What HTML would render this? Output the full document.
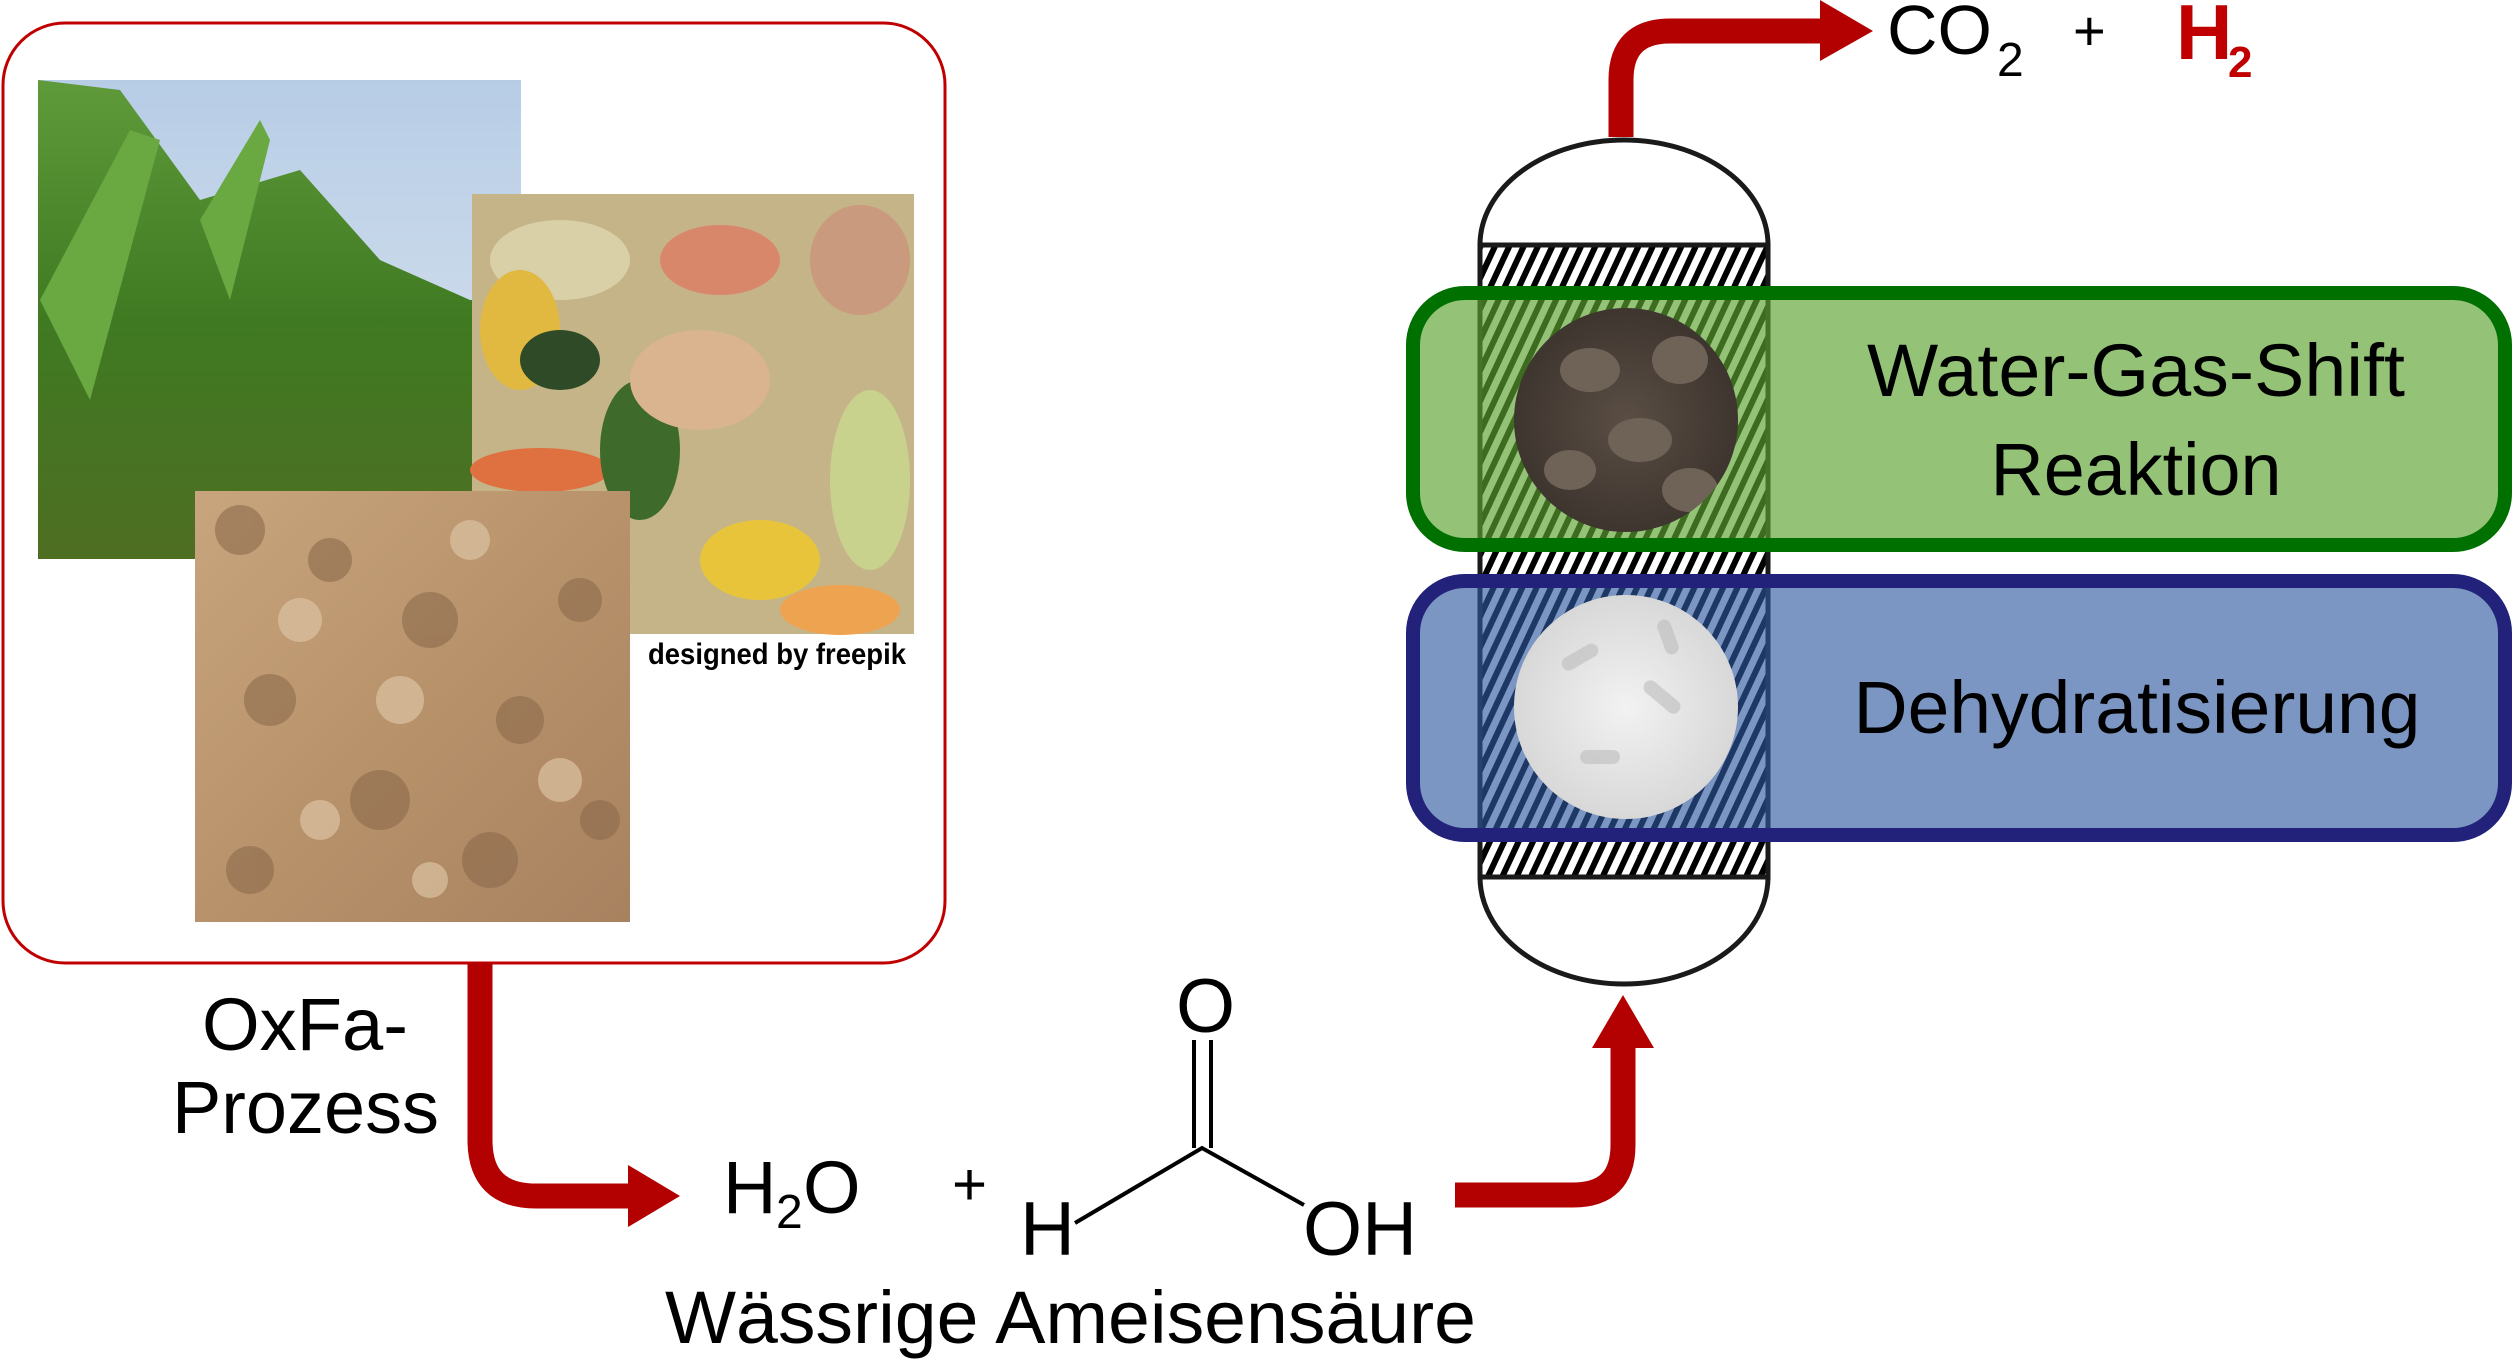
<!DOCTYPE html>
<html><head><meta charset="utf-8"><style>
html,body{margin:0;padding:0;background:#fff;}
svg{display:block;}
text{font-family:"Liberation Sans",Arial,sans-serif;}
</style></head><body>
<svg width="2514" height="1360" viewBox="0 0 2514 1360" xmlns="http://www.w3.org/2000/svg">
<defs>
<pattern id="hatch" width="13" height="13" patternUnits="userSpaceOnUse" patternTransform="rotate(25)">
<rect width="13" height="13" fill="#fff"/><rect width="6" height="13" fill="#000"/>
</pattern>
<linearGradient id="sky" x1="0" y1="0" x2="0" y2="1">
<stop offset="0" stop-color="#b7cde6"/><stop offset="1" stop-color="#dfe7ef"/></linearGradient>
<linearGradient id="corn" x1="0" y1="0" x2="0" y2="1">
<stop offset="0" stop-color="#5f9a3a"/><stop offset="0.5" stop-color="#3f7a22"/><stop offset="1" stop-color="#4e6e22"/></linearGradient>
<linearGradient id="wood" x1="0" y1="0" x2="1" y2="1">
<stop offset="0" stop-color="#c8a57d"/><stop offset="0.5" stop-color="#b8926a"/><stop offset="1" stop-color="#a88260"/></linearGradient>
<radialGradient id="dark" cx="0.5" cy="0.5" r="0.5">
<stop offset="0" stop-color="#5a4e44"/><stop offset="1" stop-color="#3e352f"/></radialGradient>
<radialGradient id="white" cx="0.5" cy="0.5" r="0.5">
<stop offset="0" stop-color="#f2f2f2"/><stop offset="1" stop-color="#d8d8d8"/></radialGradient>
<clipPath id="c1"><circle cx="1626" cy="420" r="112"/></clipPath>
<clipPath id="c2"><circle cx="1626" cy="707" r="112"/></clipPath>
</defs>

<!-- Biomass box -->
<rect x="3" y="23" width="942" height="940" rx="62" fill="#fff" stroke="#c00000" stroke-width="3"/>
<!-- corn -->
<rect x="38" y="80" width="483" height="479" fill="url(#sky)"/>
<path d="M38,80 L120,90 L200,200 L300,170 L380,260 L470,300 L521,300 L521,559 L38,559 Z" fill="url(#corn)"/>
<path d="M40,300 L130,130 L160,140 L90,400 Z M200,220 L260,120 L270,140 L230,300 Z" fill="#6aa842"/>
<!-- food -->
<rect x="472" y="194" width="442" height="440" fill="#c6b489"/>
<ellipse cx="560" cy="260" rx="70" ry="40" fill="#d9d0a8"/>
<ellipse cx="720" cy="260" rx="60" ry="35" fill="#d8876a"/>
<ellipse cx="860" cy="260" rx="50" ry="55" fill="#c99a7d"/>
<ellipse cx="520" cy="330" rx="40" ry="60" fill="#e1b840"/>
<ellipse cx="560" cy="360" rx="40" ry="30" fill="#2f4a26"/>
<ellipse cx="540" cy="470" rx="70" ry="22" fill="#df7040"/>
<ellipse cx="640" cy="450" rx="40" ry="70" fill="#3e6a2c"/>
<ellipse cx="760" cy="560" rx="60" ry="40" fill="#e7c43a"/>
<ellipse cx="870" cy="480" rx="40" ry="90" fill="#c8d28c"/>
<ellipse cx="700" cy="380" rx="70" ry="50" fill="#d9b48e"/>
<ellipse cx="840" cy="610" rx="60" ry="25" fill="#eea351"/>
<!-- wood -->
<rect x="195" y="491" width="435" height="431" fill="url(#wood)"/>
<g fill="#8c6a4c" opacity="0.6">
<circle cx="240" cy="530" r="25"/><circle cx="330" cy="560" r="22"/><circle cx="430" cy="620" r="28"/>
<circle cx="270" cy="700" r="26"/><circle cx="520" cy="720" r="24"/><circle cx="380" cy="800" r="30"/>
<circle cx="580" cy="600" r="22"/><circle cx="250" cy="870" r="24"/><circle cx="490" cy="860" r="28"/>
<circle cx="600" cy="820" r="20"/></g>
<g fill="#dcc3a2" opacity="0.7">
<circle cx="300" cy="620" r="22"/><circle cx="470" cy="540" r="20"/><circle cx="400" cy="700" r="24"/>
<circle cx="560" cy="780" r="22"/><circle cx="320" cy="820" r="20"/><circle cx="430" cy="880" r="18"/></g>
<text x="648" y="664" font-size="30" font-weight="bold" textLength="258" lengthAdjust="spacingAndGlyphs">designed by freepik</text>

<!-- left arrow -->
<path d="M480,963 V1140 Q480,1196 536,1196 H632" fill="none" stroke="#b30000" stroke-width="25"/>
<polygon points="628,1165 680,1196 628,1227" fill="#b30000"/>
<text x="202" y="1050" font-size="74" textLength="206" lengthAdjust="spacingAndGlyphs">OxFa-</text>
<text x="172" y="1133" font-size="74" textLength="267" lengthAdjust="spacingAndGlyphs">Prozess</text>

<!-- H2O + formic acid -->
<text x="723" y="1213" font-size="74">H</text>
<text x="776" y="1228" font-size="48">2</text>
<text x="803" y="1213" font-size="74">O</text>
<text x="952" y="1205" font-size="60">+</text>
<text x="1176" y="1032" font-size="76">O</text>
<line x1="1194" y1="1040" x2="1194" y2="1148" stroke="#000" stroke-width="4"/>
<line x1="1211" y1="1040" x2="1211" y2="1148" stroke="#000" stroke-width="4"/>
<polyline points="1075,1223 1202,1148 1304,1205" fill="none" stroke="#000" stroke-width="4"/>
<text x="1020" y="1255" font-size="76">H</text>
<text x="1303" y="1255" font-size="76">OH</text>
<text x="665" y="1343" font-size="74" textLength="811" lengthAdjust="spacingAndGlyphs">Wässrige Ameisensäure</text>

<!-- right arrow -->
<path d="M1455,1195 H1573 Q1623,1195 1623,1145 V1045" fill="none" stroke="#b30000" stroke-width="25"/>
<polygon points="1592,1048 1623,995 1654,1048" fill="#b30000"/>

<!-- top arrow -->
<path d="M1621,137 V80 Q1621,31 1670,31 H1824" fill="none" stroke="#b30000" stroke-width="25"/>
<polygon points="1820,0 1873,31 1820,61" fill="#b30000"/>
<text x="1887" y="54" font-size="70">CO</text>
<text x="1997" y="76" font-size="48">2</text>
<text x="2073" y="50" font-size="56">+</text>
<text x="2176" y="59" font-size="78" font-weight="bold" fill="#c00000">H</text>
<text x="2228" y="77" font-size="44" font-weight="bold" fill="#c00000">2</text>

<!-- reactor -->
<path d="M1480,245 A144,105 0 0 1 1768,245 Z" fill="#fff" stroke="#1a1a1a" stroke-width="5"/>
<rect x="1480" y="245" width="288" height="632" fill="url(#hatch)" stroke="#1a1a1a" stroke-width="5"/>
<path d="M1480,877 A144,107 0 0 0 1768,877 Z" fill="#fff" stroke="#1a1a1a" stroke-width="5"/>

<!-- boxes -->
<rect x="1413" y="293" width="1092" height="252" rx="52" fill="rgb(92,164,48)" fill-opacity="0.66" stroke="#007000" stroke-width="14"/>
<rect x="1413" y="581" width="1092" height="254" rx="52" fill="rgb(48,89,161)" fill-opacity="0.63" stroke="#22227a" stroke-width="14"/>

<!-- catalyst circles -->
<circle cx="1626" cy="420" r="112" fill="url(#dark)"/>
<g clip-path="url(#c1)" fill="#6f6357">
<ellipse cx="1590" cy="370" rx="30" ry="22"/><ellipse cx="1680" cy="360" rx="28" ry="24"/>
<ellipse cx="1640" cy="440" rx="32" ry="22"/><ellipse cx="1570" cy="470" rx="26" ry="20"/>
<ellipse cx="1690" cy="490" rx="28" ry="22"/></g>
<circle cx="1626" cy="707" r="112" fill="url(#white)"/>
<g clip-path="url(#c2)" fill="#bdbdbd" opacity="0.6">
<rect x="1560" y="650" width="40" height="14" rx="7" transform="rotate(-30 1580 657)"/>
<rect x="1640" y="690" width="44" height="14" rx="7" transform="rotate(40 1662 697)"/>
<rect x="1580" y="750" width="40" height="14" rx="7"/>
<rect x="1650" y="630" width="36" height="14" rx="7" transform="rotate(70 1668 637)"/></g>

<!-- labels -->
<text x="2136" y="396" font-size="74" text-anchor="middle" textLength="538" lengthAdjust="spacingAndGlyphs">Water-Gas-Shift</text>
<text x="2136" y="495" font-size="74" text-anchor="middle" textLength="291" lengthAdjust="spacingAndGlyphs">Reaktion</text>
<text x="2137" y="733" font-size="74" text-anchor="middle" textLength="567" lengthAdjust="spacingAndGlyphs">Dehydratisierung</text>
</svg>
</body></html>
